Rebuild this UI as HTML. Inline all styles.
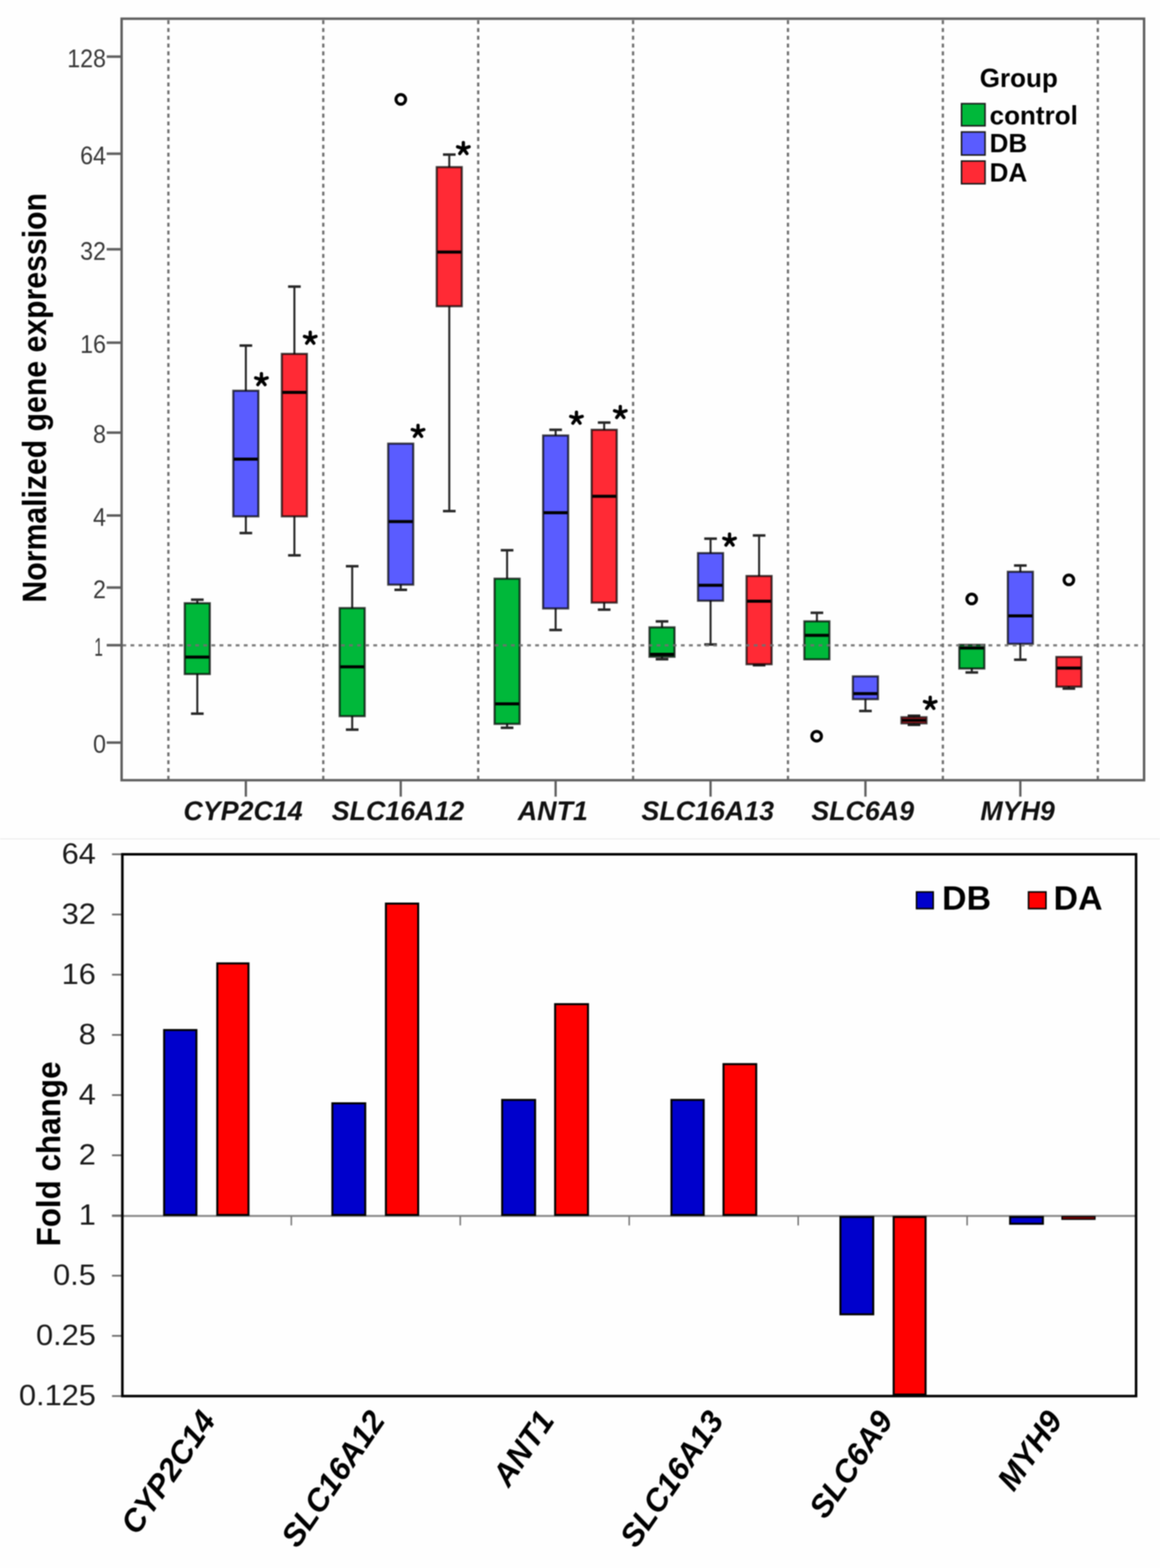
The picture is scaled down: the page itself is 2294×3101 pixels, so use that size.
<!DOCTYPE html>
<html><head><meta charset="utf-8"><title>Gene expression figure</title>
<style>
html,body{margin:0;padding:0;background:#fff;}
body{width:2294px;height:3101px;overflow:hidden;}
svg{display:block;filter:blur(1px);}
</style></head>
<body>
<svg width="2294" height="3101" viewBox="0 0 2294 3101">
<rect x="0" y="0" width="2294" height="3101" fill="#fefefe"/>
<g stroke="#707070" stroke-width="4.5" stroke-dasharray="7.8 7.605" fill="none">
<line x1="333.0" y1="40" x2="333.0" y2="1542"/>
<line x1="639.3" y1="40" x2="639.3" y2="1542"/>
<line x1="945.7" y1="40" x2="945.7" y2="1542"/>
<line x1="1252.0" y1="40" x2="1252.0" y2="1542"/>
<line x1="1558.3" y1="40" x2="1558.3" y2="1542"/>
<line x1="1864.6" y1="40" x2="1864.6" y2="1542"/>
<line x1="2171.0" y1="40" x2="2171.0" y2="1542"/>
</g>
<g>
<g stroke="#262626" stroke-width="4"><line x1="390.2" y1="1186.0" x2="390.2" y2="1193.0"/><line x1="377.7" y1="1186.0" x2="402.7" y2="1186.0" stroke-width="5"/><line x1="390.2" y1="1333.0" x2="390.2" y2="1411.4"/><line x1="377.7" y1="1411.4" x2="402.7" y2="1411.4" stroke-width="5"/></g>
<rect x="365.4" y="1193.0" width="49.5" height="140.0" fill="#00b83a" stroke="#000" stroke-opacity="0.72" stroke-width="4.2"/>
<line x1="366.4" y1="1299.4" x2="413.9" y2="1299.4" stroke="#000" stroke-width="6"/>
<g stroke="#262626" stroke-width="4"><line x1="486.2" y1="683.4" x2="486.2" y2="772.8"/><line x1="473.7" y1="683.4" x2="498.7" y2="683.4" stroke-width="5"/><line x1="486.2" y1="1021.2" x2="486.2" y2="1054.2"/><line x1="473.7" y1="1054.2" x2="498.7" y2="1054.2" stroke-width="5"/></g>
<rect x="461.4" y="772.8" width="49.5" height="248.4" fill="#5a5cff" stroke="#000" stroke-opacity="0.72" stroke-width="4.2"/>
<line x1="462.4" y1="908.0" x2="509.9" y2="908.0" stroke="#000" stroke-width="6"/>
<g stroke="#262626" stroke-width="4"><line x1="582.2" y1="566.8" x2="582.2" y2="699.9"/><line x1="569.7" y1="566.8" x2="594.7" y2="566.8" stroke-width="5"/><line x1="582.2" y1="1021.2" x2="582.2" y2="1098.3"/><line x1="569.7" y1="1098.3" x2="594.7" y2="1098.3" stroke-width="5"/></g>
<rect x="557.4" y="699.9" width="49.5" height="321.3" fill="#ff2a35" stroke="#000" stroke-opacity="0.72" stroke-width="4.2"/>
<line x1="558.4" y1="776.0" x2="605.9" y2="776.0" stroke="#000" stroke-width="6"/>
<g stroke="#262626" stroke-width="4"><line x1="696.5" y1="1119.8" x2="696.5" y2="1202.6"/><line x1="684.0" y1="1119.8" x2="709.0" y2="1119.8" stroke-width="5"/><line x1="696.5" y1="1416.3" x2="696.5" y2="1443.0"/><line x1="684.0" y1="1443.0" x2="709.0" y2="1443.0" stroke-width="5"/></g>
<rect x="671.7" y="1202.6" width="49.5" height="213.7" fill="#00b83a" stroke="#000" stroke-opacity="0.72" stroke-width="4.2"/>
<line x1="672.7" y1="1318.8" x2="720.2" y2="1318.8" stroke="#000" stroke-width="6"/>
<g stroke="#262626" stroke-width="4"><line x1="792.5" y1="1156.2" x2="792.5" y2="1166.5"/><line x1="780.0" y1="1166.5" x2="805.0" y2="1166.5" stroke-width="5"/></g>
<rect x="767.7" y="877.4" width="49.5" height="278.8" fill="#5a5cff" stroke="#000" stroke-opacity="0.72" stroke-width="4.2"/>
<line x1="768.7" y1="1031.4" x2="816.2" y2="1031.4" stroke="#000" stroke-width="6"/>
<g stroke="#262626" stroke-width="4"><line x1="888.5" y1="305.7" x2="888.5" y2="330.5"/><line x1="876.0" y1="305.7" x2="901.0" y2="305.7" stroke-width="5"/><line x1="888.5" y1="605.6" x2="888.5" y2="1010.8"/><line x1="876.0" y1="1010.8" x2="901.0" y2="1010.8" stroke-width="5"/></g>
<rect x="863.7" y="330.5" width="49.5" height="275.1" fill="#ff2a35" stroke="#000" stroke-opacity="0.72" stroke-width="4.2"/>
<line x1="864.7" y1="498.5" x2="912.2" y2="498.5" stroke="#000" stroke-width="6"/>
<g stroke="#262626" stroke-width="4"><line x1="1002.8" y1="1088.2" x2="1002.8" y2="1144.5"/><line x1="990.3" y1="1088.2" x2="1015.3" y2="1088.2" stroke-width="5"/><line x1="1002.8" y1="1431.6" x2="1002.8" y2="1439.3"/><line x1="990.3" y1="1439.3" x2="1015.3" y2="1439.3" stroke-width="5"/></g>
<rect x="978.1" y="1144.5" width="49.5" height="287.1" fill="#00b83a" stroke="#000" stroke-opacity="0.72" stroke-width="4.2"/>
<line x1="979.1" y1="1392.0" x2="1026.6" y2="1392.0" stroke="#000" stroke-width="6"/>
<g stroke="#262626" stroke-width="4"><line x1="1098.8" y1="850.0" x2="1098.8" y2="861.3"/><line x1="1086.3" y1="850.0" x2="1111.3" y2="850.0" stroke-width="5"/><line x1="1098.8" y1="1203.3" x2="1098.8" y2="1245.9"/><line x1="1086.3" y1="1245.9" x2="1111.3" y2="1245.9" stroke-width="5"/></g>
<rect x="1074.1" y="861.3" width="49.5" height="342.0" fill="#5a5cff" stroke="#000" stroke-opacity="0.72" stroke-width="4.2"/>
<line x1="1075.1" y1="1013.9" x2="1122.6" y2="1013.9" stroke="#000" stroke-width="6"/>
<g stroke="#262626" stroke-width="4"><line x1="1194.8" y1="835.7" x2="1194.8" y2="850.0"/><line x1="1182.3" y1="835.7" x2="1207.3" y2="835.7" stroke-width="5"/><line x1="1194.8" y1="1191.7" x2="1194.8" y2="1205.7"/><line x1="1182.3" y1="1205.7" x2="1207.3" y2="1205.7" stroke-width="5"/></g>
<rect x="1170.1" y="850.0" width="49.5" height="341.7" fill="#ff2a35" stroke="#000" stroke-opacity="0.72" stroke-width="4.2"/>
<line x1="1171.1" y1="981.6" x2="1218.6" y2="981.6" stroke="#000" stroke-width="6"/>
<g stroke="#262626" stroke-width="4"><line x1="1309.2" y1="1228.9" x2="1309.2" y2="1240.7"/><line x1="1296.7" y1="1228.9" x2="1321.7" y2="1228.9" stroke-width="5"/><line x1="1309.2" y1="1298.8" x2="1309.2" y2="1303.7"/><line x1="1296.7" y1="1303.7" x2="1321.7" y2="1303.7" stroke-width="5"/></g>
<rect x="1284.4" y="1240.7" width="49.5" height="58.1" fill="#00b83a" stroke="#000" stroke-opacity="0.72" stroke-width="4.2"/>
<line x1="1285.4" y1="1293.9" x2="1332.9" y2="1293.9" stroke="#000" stroke-width="6"/>
<g stroke="#262626" stroke-width="4"><line x1="1405.2" y1="1065.3" x2="1405.2" y2="1093.9"/><line x1="1392.7" y1="1065.3" x2="1417.7" y2="1065.3" stroke-width="5"/><line x1="1405.2" y1="1188.0" x2="1405.2" y2="1274.6"/><line x1="1392.7" y1="1274.6" x2="1417.7" y2="1274.6" stroke-width="5"/></g>
<rect x="1380.4" y="1093.9" width="49.5" height="94.1" fill="#5a5cff" stroke="#000" stroke-opacity="0.72" stroke-width="4.2"/>
<line x1="1381.4" y1="1157.5" x2="1428.9" y2="1157.5" stroke="#000" stroke-width="6"/>
<g stroke="#262626" stroke-width="4"><line x1="1501.2" y1="1059.0" x2="1501.2" y2="1139.2"/><line x1="1488.7" y1="1059.0" x2="1513.7" y2="1059.0" stroke-width="5"/><line x1="1501.2" y1="1313.6" x2="1501.2" y2="1315.6"/><line x1="1488.7" y1="1315.6" x2="1513.7" y2="1315.6" stroke-width="5"/></g>
<rect x="1476.4" y="1139.2" width="49.5" height="174.4" fill="#ff2a35" stroke="#000" stroke-opacity="0.72" stroke-width="4.2"/>
<line x1="1477.4" y1="1189.0" x2="1524.9" y2="1189.0" stroke="#000" stroke-width="6"/>
<g stroke="#262626" stroke-width="4"><line x1="1615.5" y1="1211.9" x2="1615.5" y2="1228.8"/><line x1="1603.0" y1="1211.9" x2="1628.0" y2="1211.9" stroke-width="5"/></g>
<rect x="1590.7" y="1228.8" width="49.5" height="75.1" fill="#00b83a" stroke="#000" stroke-opacity="0.72" stroke-width="4.2"/>
<line x1="1591.7" y1="1256.6" x2="1639.2" y2="1256.6" stroke="#000" stroke-width="6"/>
<g stroke="#262626" stroke-width="4"><line x1="1711.5" y1="1382.7" x2="1711.5" y2="1406.1"/><line x1="1699.0" y1="1406.1" x2="1724.0" y2="1406.1" stroke-width="5"/></g>
<rect x="1686.7" y="1337.7" width="49.5" height="45.0" fill="#5a5cff" stroke="#000" stroke-opacity="0.72" stroke-width="4.2"/>
<line x1="1687.7" y1="1371.8" x2="1735.2" y2="1371.8" stroke="#000" stroke-width="6"/>
<g stroke="#262626" stroke-width="4"><line x1="1807.5" y1="1415.5" x2="1807.5" y2="1418.5"/><line x1="1795.0" y1="1415.5" x2="1820.0" y2="1415.5" stroke-width="5"/><line x1="1807.5" y1="1430.5" x2="1807.5" y2="1433.5"/><line x1="1795.0" y1="1433.5" x2="1820.0" y2="1433.5" stroke-width="5"/></g>
<rect x="1782.7" y="1418.5" width="49.5" height="12.0" fill="#ff2a35" stroke="#000" stroke-opacity="0.72" stroke-width="4.2"/>
<line x1="1783.7" y1="1424.5" x2="1831.2" y2="1424.5" stroke="#000" stroke-width="6"/>
<g stroke="#262626" stroke-width="4"><line x1="1921.8" y1="1322.1" x2="1921.8" y2="1329.9"/><line x1="1909.3" y1="1329.9" x2="1934.3" y2="1329.9" stroke-width="5"/></g>
<rect x="1897.1" y="1275.3" width="49.5" height="46.8" fill="#00b83a" stroke="#000" stroke-opacity="0.72" stroke-width="4.2"/>
<line x1="1898.1" y1="1281.5" x2="1945.6" y2="1281.5" stroke="#000" stroke-width="6"/>
<g stroke="#262626" stroke-width="4"><line x1="2017.8" y1="1118.4" x2="2017.8" y2="1130.8"/><line x1="2005.3" y1="1118.4" x2="2030.3" y2="1118.4" stroke-width="5"/><line x1="2017.8" y1="1273.3" x2="2017.8" y2="1304.7"/><line x1="2005.3" y1="1304.7" x2="2030.3" y2="1304.7" stroke-width="5"/></g>
<rect x="1993.1" y="1130.8" width="49.5" height="142.5" fill="#5a5cff" stroke="#000" stroke-opacity="0.72" stroke-width="4.2"/>
<line x1="1994.1" y1="1218.1" x2="2041.6" y2="1218.1" stroke="#000" stroke-width="6"/>
<g stroke="#262626" stroke-width="4"><line x1="2113.8" y1="1358.0" x2="2113.8" y2="1361.8"/><line x1="2101.3" y1="1361.8" x2="2126.3" y2="1361.8" stroke-width="5"/></g>
<rect x="2089.1" y="1299.3" width="49.5" height="58.7" fill="#ff2a35" stroke="#000" stroke-opacity="0.72" stroke-width="4.2"/>
<line x1="2090.1" y1="1321.2" x2="2137.6" y2="1321.2" stroke="#000" stroke-width="6"/>
</g>
<line x1="242.05" y1="1276.2" x2="2262.5" y2="1276.2" stroke="#707070" stroke-width="4.5" stroke-dasharray="7.5 8.507" stroke-opacity="0.9"/>
<circle cx="792.6" cy="196.6" r="9.5" fill="none" stroke="#000" stroke-width="6"/>
<circle cx="1615" cy="1455.9" r="9.5" fill="none" stroke="#000" stroke-width="6"/>
<circle cx="1921.6" cy="1184.6" r="9.5" fill="none" stroke="#000" stroke-width="6"/>
<circle cx="2113.8" cy="1146.8" r="9.5" fill="none" stroke="#000" stroke-width="6"/>
<path d="M517.0 751.0L517.0 739.0M517.0 751.0L528.4 747.3M517.0 751.0L524.1 760.7M517.0 751.0L509.9 760.7M517.0 751.0L505.6 747.3" stroke="#000" stroke-width="6.5" stroke-linecap="round" fill="none"/>
<path d="M613.5 669.0L613.5 657.0M613.5 669.0L624.9 665.3M613.5 669.0L620.6 678.7M613.5 669.0L606.4 678.7M613.5 669.0L602.1 665.3" stroke="#000" stroke-width="6.5" stroke-linecap="round" fill="none"/>
<path d="M916.3 294.0L916.3 282.0M916.3 294.0L927.7 290.3M916.3 294.0L923.4 303.7M916.3 294.0L909.2 303.7M916.3 294.0L904.9 290.3" stroke="#000" stroke-width="6.5" stroke-linecap="round" fill="none"/>
<path d="M826.7 853.2L826.7 841.2M826.7 853.2L838.1 849.5M826.7 853.2L833.8 862.9M826.7 853.2L819.6 862.9M826.7 853.2L815.3 849.5" stroke="#000" stroke-width="6.5" stroke-linecap="round" fill="none"/>
<path d="M1140.0 827.2L1140.0 815.2M1140.0 827.2L1151.4 823.5M1140.0 827.2L1147.1 836.9M1140.0 827.2L1132.9 836.9M1140.0 827.2L1128.6 823.5" stroke="#000" stroke-width="6.5" stroke-linecap="round" fill="none"/>
<path d="M1226.7 816.0L1226.7 804.0M1226.7 816.0L1238.1 812.3M1226.7 816.0L1233.8 825.7M1226.7 816.0L1219.6 825.7M1226.7 816.0L1215.3 812.3" stroke="#000" stroke-width="6.5" stroke-linecap="round" fill="none"/>
<path d="M1442.7 1068.3L1442.7 1056.3M1442.7 1068.3L1454.1 1064.6M1442.7 1068.3L1449.8 1078.0M1442.7 1068.3L1435.6 1078.0M1442.7 1068.3L1431.3 1064.6" stroke="#000" stroke-width="6.5" stroke-linecap="round" fill="none"/>
<path d="M1839.6 1391.1L1839.6 1379.1M1839.6 1391.1L1851.0 1387.4M1839.6 1391.1L1846.7 1400.8M1839.6 1391.1L1832.5 1400.8M1839.6 1391.1L1828.2 1387.4" stroke="#000" stroke-width="6.5" stroke-linecap="round" fill="none"/>
<rect x="240.5" y="37" width="2022.0" height="1506" fill="none" stroke="#5e5e5e" stroke-width="4.8"/>
<g stroke="#5e5e5e" stroke-width="5">
<line x1="211" y1="112" x2="240.5" y2="112"/>
<line x1="211" y1="304" x2="240.5" y2="304"/>
<line x1="211" y1="493" x2="240.5" y2="493"/>
<line x1="211" y1="677.7" x2="240.5" y2="677.7"/>
<line x1="211" y1="855.6" x2="240.5" y2="855.6"/>
<line x1="211" y1="1019.5" x2="240.5" y2="1019.5"/>
<line x1="211" y1="1162" x2="240.5" y2="1162"/>
<line x1="211" y1="1276" x2="240.5" y2="1276"/>
<line x1="211" y1="1468.6" x2="240.5" y2="1468.6"/>
</g>
<g stroke="#5e5e5e" stroke-width="4.5">
<line x1="486.2" y1="1543" x2="486.2" y2="1575.5"/>
<line x1="792.5" y1="1543" x2="792.5" y2="1575.5"/>
<line x1="1098.8" y1="1543" x2="1098.8" y2="1575.5"/>
<line x1="1405.2" y1="1543" x2="1405.2" y2="1575.5"/>
<line x1="1711.5" y1="1543" x2="1711.5" y2="1575.5"/>
<line x1="2017.8" y1="1543" x2="2017.8" y2="1575.5"/>
</g>
<g font-family="'Liberation Sans', Arial, sans-serif" font-size="50" fill="#383838" text-anchor="end">
<text x="209.5" y="132.5" textLength="76.5" lengthAdjust="spacingAndGlyphs">128</text>
<text x="209.5" y="324.5" textLength="51.0" lengthAdjust="spacingAndGlyphs">64</text>
<text x="209.5" y="513.5" textLength="51.0" lengthAdjust="spacingAndGlyphs">32</text>
<text x="209.5" y="698.2" textLength="51.0" lengthAdjust="spacingAndGlyphs">16</text>
<text x="209.5" y="876.1" textLength="25.5" lengthAdjust="spacingAndGlyphs">8</text>
<text x="209.5" y="1040.0" textLength="25.5" lengthAdjust="spacingAndGlyphs">4</text>
<text x="209.5" y="1182.5" textLength="25.5" lengthAdjust="spacingAndGlyphs">2</text>
<text x="203.5" y="1296.5" textLength="17" lengthAdjust="spacingAndGlyphs">1</text>
<text x="209.5" y="1489.1" textLength="25.5" lengthAdjust="spacingAndGlyphs">0</text>
</g>
<text transform="translate(90.5 1191.7) rotate(-90)" font-family="'Liberation Sans', Arial, sans-serif" font-weight="bold" font-size="66" textLength="810" lengthAdjust="spacingAndGlyphs" fill="#000">Normalized gene expression</text>
<g font-family="'Liberation Sans', Arial, sans-serif" font-weight="bold" font-style="italic" font-size="53" fill="#111" text-anchor="middle">
<text x="480.7" y="1622">CYP2C14</text>
<text x="787.0" y="1622">SLC16A12</text>
<text x="1093.3" y="1622">ANT1</text>
<text x="1399.7" y="1622">SLC16A13</text>
<text x="1706.0" y="1622">SLC6A9</text>
<text x="2012.3" y="1622">MYH9</text>
</g>
<text x="1937.5" y="172.2" font-family="'Liberation Sans', Arial, sans-serif" font-weight="bold" font-size="51.5" fill="#000">Group</text>
<rect x="1901.5" y="205" width="46.5" height="43.8" fill="#00b83a" stroke="#1a1a1a" stroke-width="3"/>
<text x="1957" y="246.4" font-family="'Liberation Sans', Arial, sans-serif" font-weight="bold" font-size="51.5" fill="#000">control</text>
<rect x="1901.5" y="261" width="46.5" height="45.6" fill="#5a5cff" stroke="#1a1a1a" stroke-width="3"/>
<text x="1957" y="300.8" font-family="'Liberation Sans', Arial, sans-serif" font-weight="bold" font-size="51.5" fill="#000">DB</text>
<rect x="1901.5" y="318.5" width="46.5" height="44.9" fill="#ff2a35" stroke="#1a1a1a" stroke-width="3"/>
<text x="1957" y="359.1" font-family="'Liberation Sans', Arial, sans-serif" font-weight="bold" font-size="51.5" fill="#000">DA</text>
<line x1="0" y1="1659" x2="2294" y2="1659" stroke="#ececec" stroke-width="2"/>
<line x1="221.5" y1="2404.8" x2="2246.7" y2="2404.8" stroke="#8a8a8a" stroke-width="4"/>
<g stroke="#777" stroke-width="3">
<line x1="576.1" y1="2404.8" x2="576.1" y2="2423.5"/>
<line x1="910.2" y1="2404.8" x2="910.2" y2="2423.5"/>
<line x1="1244.3" y1="2404.8" x2="1244.3" y2="2423.5"/>
<line x1="1578.5" y1="2404.8" x2="1578.5" y2="2423.5"/>
<line x1="1912.6" y1="2404.8" x2="1912.6" y2="2423.5"/>
</g>
<rect x="324.6" y="2037.1" width="63.8" height="365.7" fill="#0000cc" stroke="#000" stroke-width="4"/>
<rect x="429.7" y="1905.3" width="61.7" height="497.5" fill="#ff0000" stroke="#000" stroke-width="4"/>
<rect x="657.3" y="2182.0" width="65.0" height="220.8" fill="#0000cc" stroke="#000" stroke-width="4"/>
<rect x="763.2" y="1787.0" width="63.8" height="615.8" fill="#ff0000" stroke="#000" stroke-width="4"/>
<rect x="993.1" y="2175.3" width="65.1" height="227.5" fill="#0000cc" stroke="#000" stroke-width="4"/>
<rect x="1097.8" y="1985.9" width="65.0" height="416.9" fill="#ff0000" stroke="#000" stroke-width="4"/>
<rect x="1327.8" y="2175.3" width="63.8" height="227.5" fill="#0000cc" stroke="#000" stroke-width="4"/>
<rect x="1430.8" y="2104.5" width="64.7" height="298.3" fill="#ff0000" stroke="#000" stroke-width="4"/>
<rect x="1662.0" y="2406.8" width="64.9" height="192.5" fill="#0000cc" stroke="#000" stroke-width="4"/>
<rect x="1767.3" y="2406.8" width="63.1" height="351.2" fill="#ff0000" stroke="#000" stroke-width="4"/>
<rect x="1997.6" y="2406.8" width="64.8" height="13.4" fill="#0000cc" stroke="#000" stroke-width="4"/>
<rect x="2100.2" y="2406.1" width="65.2" height="5.2" fill="#8b0000" stroke="#000" stroke-width="2.5"/>
<g stroke="#6e6e6e" stroke-width="3.5">
<line x1="221.5" y1="1689.5" x2="242" y2="1689.5"/>
<line x1="221.5" y1="1808.6" x2="242" y2="1808.6"/>
<line x1="221.5" y1="1927.6" x2="242" y2="1927.6"/>
<line x1="221.5" y1="2046.7" x2="242" y2="2046.7"/>
<line x1="221.5" y1="2165.7" x2="242" y2="2165.7"/>
<line x1="221.5" y1="2284.8" x2="242" y2="2284.8"/>
<line x1="221.5" y1="2403.8" x2="242" y2="2403.8"/>
<line x1="221.5" y1="2522.9" x2="242" y2="2522.9"/>
<line x1="221.5" y1="2641.9" x2="242" y2="2641.9"/>
<line x1="221.5" y1="2761.0" x2="242" y2="2761.0"/>
</g>
<rect x="242" y="1689.5" width="2004.7" height="1071.5" fill="none" stroke="#000" stroke-width="5"/>
<g font-family="'Liberation Sans', Arial, sans-serif" font-size="56.5" fill="#1a1a1a" text-anchor="end">
<text x="189.5" y="1707.5" textLength="67.5" lengthAdjust="spacingAndGlyphs">64</text>
<text x="189.5" y="1826.6" textLength="67.5" lengthAdjust="spacingAndGlyphs">32</text>
<text x="189.5" y="1945.6" textLength="67.5" lengthAdjust="spacingAndGlyphs">16</text>
<text x="189.5" y="2064.7" textLength="33.8" lengthAdjust="spacingAndGlyphs">8</text>
<text x="189.5" y="2183.7" textLength="33.8" lengthAdjust="spacingAndGlyphs">4</text>
<text x="189.5" y="2302.8" textLength="33.8" lengthAdjust="spacingAndGlyphs">2</text>
<text x="189.5" y="2421.8" textLength="33.8" lengthAdjust="spacingAndGlyphs">1</text>
<text x="189.5" y="2540.9" textLength="84.4" lengthAdjust="spacingAndGlyphs">0.5</text>
<text x="189.5" y="2659.9" textLength="118.2" lengthAdjust="spacingAndGlyphs">0.25</text>
<text x="189.5" y="2779.0" textLength="152.0" lengthAdjust="spacingAndGlyphs">0.125</text>
</g>
<text transform="translate(118.6 2465) rotate(-90)" font-family="'Liberation Sans', Arial, sans-serif" font-weight="bold" font-size="66" textLength="365.7" lengthAdjust="spacingAndGlyphs" fill="#000">Fold change</text>
<rect x="1812.5" y="1764" width="33" height="33" fill="#0000cc" stroke="#000" stroke-width="3"/>
<text x="1863" y="1799" font-family="'Liberation Sans', Arial, sans-serif" font-weight="bold" font-size="67" fill="#000">DB</text>
<rect x="2034" y="1764" width="34.5" height="33" fill="#ff0000" stroke="#000" stroke-width="3"/>
<text x="2083.5" y="1799" font-family="'Liberation Sans', Arial, sans-serif" font-weight="bold" font-size="67" fill="#000">DA</text>
<g font-family="'Liberation Sans', Arial, sans-serif" font-weight="bold" font-style="italic" font-size="62.5" fill="#000" text-anchor="end">
<text transform="translate(428.7 2809.2) rotate(-55.5)">CYP2C14</text>
<text transform="translate(763.6 2809.2) rotate(-55.5)">SLC16A12</text>
<text transform="translate(1098.5 2809.2) rotate(-55.5)">ANT1</text>
<text transform="translate(1433.4 2809.2) rotate(-55.5)">SLC16A13</text>
<text transform="translate(1768.3 2809.2) rotate(-55.5)">SLC6A9</text>
<text transform="translate(2103.2 2809.2) rotate(-55.5)">MYH9</text>
</g>
</svg>
</body></html>
